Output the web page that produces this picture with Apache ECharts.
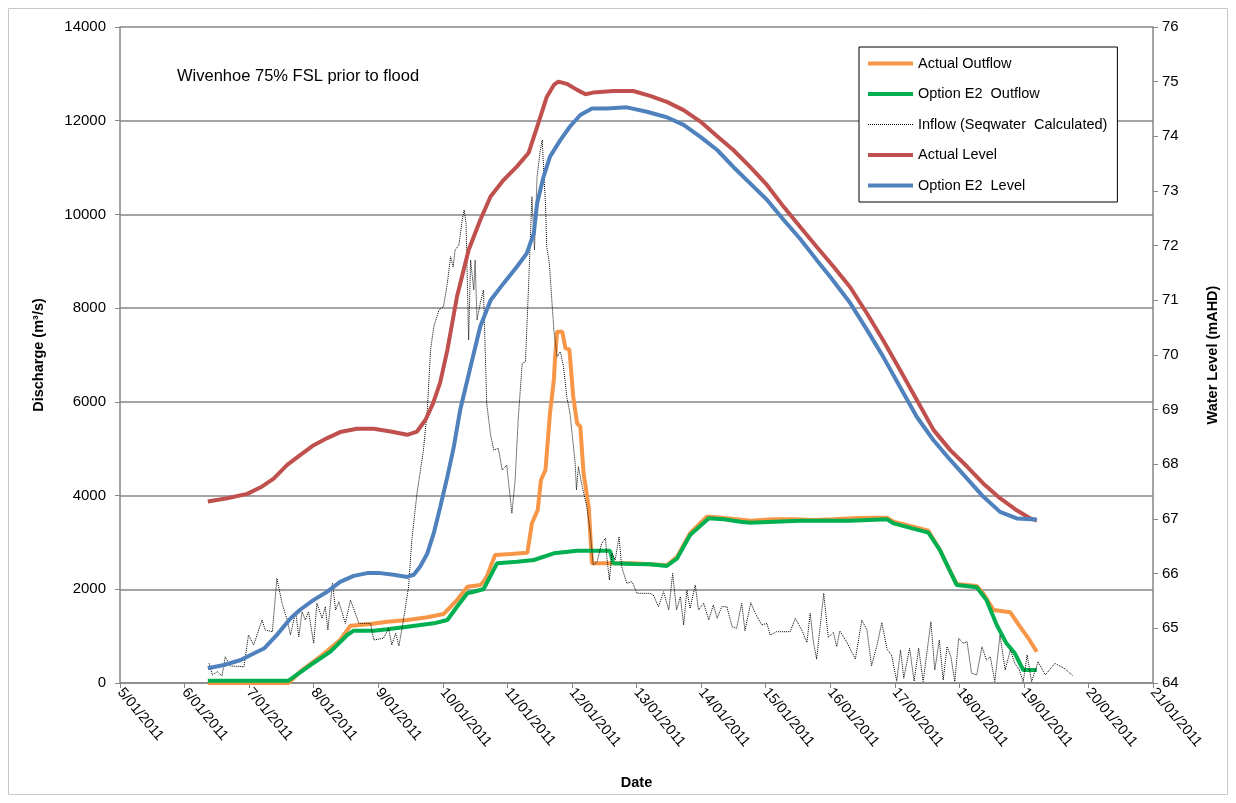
<!DOCTYPE html>
<html>
<head>
<meta charset="utf-8">
<script src="https://cdn.jsdelivr.net/npm/echarts@6/dist/echarts.min.js"></script>
<style>
  html, body { margin: 0; padding: 0; background: #fff; }
  #chart { width: 1236px; height: 803px; }
</style>
</head>
<body>
<div id="chart"></div>
<script>
// x values are the day of January 2011 (decimal), e.g. 6.5 = 6/01/2011 12:00
const dayTicks = [5, 6, 7, 8, 9, 10, 11, 12, 13, 14, 15, 16, 17, 18, 19, 20, 21]
const dischargeTicks = [0, 2000, 4000, 6000, 8000, 10000, 12000, 14000]
const levelTicks = [64, 65, 66, 67, 68, 69, 70, 71, 72, 73, 74, 75, 76]

// discharge, m3/s
const actualOutflow = [
  [6.36, 0], [7.61, 0], [7.79, 241], [8.10, 561], [8.41, 918], [8.57, 1223], [8.88, 1259],
  [9.14, 1308], [9.45, 1344], [9.76, 1402], [10.01, 1472], [10.22, 1771], [10.38, 2055],
  [10.58, 2091], [10.63, 2162], [10.68, 2268], [10.81, 2731], [11.05, 2753], [11.31, 2781],
  [11.38, 3408], [11.47, 3692], [11.52, 4332], [11.59, 4545], [11.66, 5755], [11.72, 6466],
  [11.74, 6963], [11.77, 7497], [11.85, 7497], [11.90, 7142], [11.96, 7121], [12.02, 6110],
  [12.08, 5542], [12.13, 5469], [12.18, 4475], [12.26, 3762], [12.31, 2554], [12.64, 2554],
  [12.95, 2554], [13.21, 2533], [13.47, 2512], [13.63, 2695], [13.83, 3195], [14.09, 3549],
  [14.14, 3549], [14.40, 3515], [14.76, 3464], [15.12, 3493], [15.43, 3493], [15.74, 3478],
  [16.05, 3493], [16.36, 3515], [16.67, 3528], [16.88, 3528], [16.98, 3442], [17.24, 3350],
  [17.52, 3251], [17.70, 2838], [17.81, 2518], [17.96, 2113], [18.27, 2070], [18.37, 1914],
  [18.53, 1558], [18.79, 1508], [18.94, 1202], [19.07, 954], [19.20, 668]
]

const optionE2Outflow = [
  [6.36, 50], [7.61, 50], [7.64, 64], [7.95, 384], [8.26, 668], [8.52, 1024], [8.62, 1116],
  [8.93, 1116], [9.14, 1145], [9.45, 1202], [9.86, 1273], [10.07, 1344], [10.22, 1628],
  [10.38, 1914], [10.48, 1948], [10.58, 1984], [10.63, 2000], [10.84, 2554], [11.15, 2589],
  [11.41, 2625], [11.72, 2768], [12.08, 2823], [12.59, 2823], [12.64, 2554], [12.95, 2539],
  [13.21, 2533], [13.47, 2497], [13.63, 2661], [13.83, 3158], [14.12, 3515], [14.35, 3493],
  [14.61, 3442], [14.76, 3421], [15.53, 3464], [16.31, 3464], [16.88, 3493], [16.98, 3408],
  [17.52, 3208], [17.70, 2838], [17.96, 2091], [18.27, 2042], [18.42, 1771], [18.58, 1238],
  [18.73, 847], [18.86, 634], [18.99, 277], [19.20, 277]
]

const inflow = [
  [6.38, 420], [6.43, 171], [6.51, 241], [6.58, 149], [6.63, 561], [6.71, 363], [6.92, 348],
  [6.99, 1024], [7.07, 811], [7.20, 1344], [7.25, 1131], [7.36, 1095], [7.43, 2234],
  [7.51, 1701], [7.59, 1344], [7.64, 1024], [7.72, 1522], [7.77, 988], [7.82, 1522],
  [7.87, 1344], [7.92, 1522], [8.00, 847], [8.05, 1701], [8.13, 1381], [8.18, 1628],
  [8.22, 1131], [8.29, 2128], [8.34, 1558], [8.39, 1735], [8.49, 1274], [8.57, 1771],
  [8.70, 1274], [8.88, 1274], [8.93, 918], [9.08, 954], [9.16, 1167], [9.21, 811],
  [9.27, 1061], [9.32, 790], [9.39, 1344], [9.47, 2055], [9.52, 3052], [9.60, 4047],
  [9.70, 4972], [9.76, 5826], [9.81, 7106], [9.86, 7604], [9.94, 7960], [10.01, 8031],
  [10.07, 8530], [10.12, 9097], [10.16, 8884], [10.19, 9240], [10.25, 9347], [10.30, 9880],
  [10.33, 10094], [10.36, 9810], [10.40, 7320], [10.43, 9027], [10.48, 8387], [10.50, 9027],
  [10.53, 7746], [10.58, 8103], [10.63, 8387], [10.68, 5969], [10.74, 5292], [10.79, 4972],
  [10.86, 5008], [10.92, 4545], [10.99, 4652], [11.07, 3621], [11.12, 4332], [11.17, 5683],
  [11.23, 6822], [11.28, 6857], [11.33, 8530], [11.38, 10378], [11.42, 9240], [11.46, 10805],
  [11.51, 11374], [11.54, 11588], [11.56, 11018], [11.59, 10237], [11.61, 9311], [11.65, 8956],
  [11.72, 7533], [11.77, 6963], [11.82, 7070], [11.87, 6750], [11.92, 6110], [11.97, 5755],
  [12.05, 4688], [12.07, 4119], [12.10, 4616], [12.16, 4189], [12.23, 3762], [12.28, 3265],
  [12.33, 2518], [12.39, 2589], [12.46, 2981], [12.52, 3088], [12.54, 2695], [12.58, 2198],
  [12.62, 2768], [12.67, 2625], [12.73, 3122], [12.77, 2482], [12.85, 2127], [12.93, 2162],
  [13.01, 1914], [13.21, 1914], [13.26, 1878], [13.34, 1628], [13.42, 1948], [13.50, 1558],
  [13.56, 2341], [13.62, 1558], [13.68, 1842], [13.73, 1238], [13.78, 1984], [13.83, 1594],
  [13.91, 2091], [13.96, 1558], [14.04, 1701], [14.12, 1344], [14.19, 1665], [14.25, 1381],
  [14.32, 1628], [14.40, 1628], [14.48, 1202], [14.55, 1167], [14.63, 1701], [14.68, 1116],
  [14.77, 1714], [14.84, 1487], [14.94, 1238], [15.02, 1274], [15.07, 1024], [15.17, 1095],
  [15.38, 1095], [15.46, 1381], [15.56, 1131], [15.64, 864], [15.69, 1487], [15.74, 880],
  [15.79, 510], [15.90, 1914], [15.97, 970], [16.05, 1080], [16.10, 775], [16.15, 1110],
  [16.26, 864], [16.39, 510], [16.49, 1344], [16.57, 1131], [16.64, 366], [16.72, 775],
  [16.80, 1290], [16.88, 720], [16.95, 598], [17.03, 40], [17.09, 704], [17.14, 100],
  [17.23, 740], [17.30, 40], [17.37, 740], [17.44, 30], [17.56, 1308], [17.62, 277],
  [17.69, 918], [17.75, 64], [17.81, 775], [17.87, 561], [17.93, 28], [17.99, 954],
  [18.06, 847], [18.12, 881], [18.19, 207], [18.27, 171], [18.35, 775], [18.42, 491],
  [18.48, 561], [18.55, 28], [18.63, 1024], [18.71, 277], [18.79, 704], [18.86, 420],
  [18.93, 277], [18.99, 28], [19.05, 598], [19.12, 28], [19.22, 455], [19.33, 171],
  [19.48, 420], [19.64, 300], [19.76, 150]
]

// water level, mAHD
const actualLevel = [
  [6.36, 67.32], [6.66, 67.38], [6.97, 67.46], [7.18, 67.58], [7.38, 67.74], [7.59, 67.99],
  [7.79, 68.17], [8.00, 68.35], [8.21, 68.48], [8.41, 68.59], [8.67, 68.65], [8.93, 68.65],
  [9.19, 68.60], [9.45, 68.54], [9.60, 68.60], [9.73, 68.81], [9.85, 69.12], [9.96, 69.50],
  [10.07, 70.09], [10.22, 71.07], [10.40, 71.92], [10.58, 72.47], [10.74, 72.90],
  [10.94, 73.20], [11.15, 73.45], [11.33, 73.70], [11.48, 74.24], [11.61, 74.72],
  [11.72, 74.94], [11.79, 75.00], [11.92, 74.96], [12.08, 74.85], [12.21, 74.77],
  [12.33, 74.80], [12.64, 74.83], [12.95, 74.83], [13.21, 74.74], [13.47, 74.63],
  [13.73, 74.48], [13.99, 74.27], [14.25, 74.00], [14.50, 73.75], [14.76, 73.44],
  [15.02, 73.11], [15.28, 72.71], [15.53, 72.35], [15.79, 71.98], [16.05, 71.62],
  [16.31, 71.24], [16.57, 70.76], [16.82, 70.27], [17.08, 69.73], [17.34, 69.18],
  [17.60, 68.63], [17.86, 68.26], [18.12, 67.96], [18.37, 67.65], [18.63, 67.38],
  [18.89, 67.16], [19.10, 67.01], [19.20, 66.97]
]

const optionE2Level = [
  [6.36, 64.27], [6.61, 64.33], [6.87, 64.42], [7.07, 64.54], [7.23, 64.63], [7.43, 64.88],
  [7.64, 65.18], [7.79, 65.34], [8.00, 65.52], [8.21, 65.67], [8.41, 65.85], [8.62, 65.96],
  [8.83, 66.01], [9.03, 66.01], [9.24, 65.98], [9.45, 65.94], [9.55, 65.98], [9.65, 66.13],
  [9.76, 66.37], [9.86, 66.74], [9.96, 67.22], [10.07, 67.77], [10.17, 68.32], [10.27, 69.00],
  [10.43, 69.79], [10.58, 70.52], [10.74, 71.00], [10.94, 71.31], [11.15, 71.62],
  [11.30, 71.86], [11.41, 72.23], [11.46, 72.77], [11.56, 73.26], [11.66, 73.63],
  [11.82, 73.93], [11.97, 74.18], [12.13, 74.39], [12.31, 74.51], [12.54, 74.51],
  [12.85, 74.53], [13.16, 74.45], [13.47, 74.35], [13.73, 74.21], [13.99, 73.99],
  [14.25, 73.75], [14.50, 73.44], [14.76, 73.14], [15.02, 72.84], [15.28, 72.47],
  [15.53, 72.13], [15.79, 71.74], [16.00, 71.43], [16.31, 70.95], [16.57, 70.46],
  [16.82, 69.97], [17.08, 69.42], [17.34, 68.87], [17.60, 68.44], [17.86, 68.08],
  [18.12, 67.74], [18.37, 67.41], [18.63, 67.13], [18.89, 67.01], [19.20, 66.99]
]

const font = 'Liberation Sans, Arial, sans-serif'
const axisGray = '#868686'
const nameStyle = { fontFamily: font, fontSize: 14.5, fontWeight: 'bold', color: '#000' }

const myChart = echarts.init(document.getElementById('chart'))
myChart.setOption({
  animation: false,
  backgroundColor: '#fff',
  textStyle: { fontFamily: font, color: '#000' },
  title: {
    text: 'Wivenhoe 75% FSL prior to flood',
    left: 172,
    top: 63,
    textStyle: { fontFamily: font, fontSize: 16.5, fontWeight: 'normal', color: '#000' }
  },
  graphic: [
    {
      type: 'rect',
      shape: { x: 8.5, y: 8.5, width: 1219, height: 786 },
      style: { fill: 'none', stroke: '#c8c8c8', lineWidth: 1 },
      silent: true
    }
  ],
  legend: {
    orient: 'vertical',
    left: 859,
    top: 47,
    padding: [9, 10, 9, 7],
    itemWidth: 45,
    itemHeight: 14,
    itemGap: 15.5,
    backgroundColor: '#fff',
    borderColor: '#000',
    borderWidth: 1,
    itemStyle: { opacity: 0 },
    textStyle: { fontFamily: font, fontSize: 14.5, color: '#000' },
    data: [
      { name: 'Actual Outflow', lineStyle: { width: 4 } },
      { name: 'Option E2  Outflow', lineStyle: { width: 4 } },
      { name: 'Inflow (Seqwater  Calculated)', lineStyle: { width: 1 } },
      { name: 'Actual Level', lineStyle: { width: 4 } },
      { name: 'Option E2  Level', lineStyle: { width: 4 } }
    ]
  },
  grid: { left: 120, right: 83, top: 27, bottom: 120 },
  xAxis: {
    type: 'value',
    min: dayTicks[0],
    max: dayTicks[dayTicks.length - 1],
    interval: 1,
    name: 'Date',
    nameLocation: 'middle',
    nameGap: 92,
    nameTextStyle: nameStyle,
    axisLine: { lineStyle: { color: axisGray, width: 1.5 } },
    axisTick: { show: true, length: 5, lineStyle: { color: axisGray } },
    splitLine: { show: false },
    axisLabel: {
      rotate: -50,
      fontSize: 14.5,
      color: '#000',
      margin: 7,
      formatter: v => v + '/01/2011'
    }
  },
  yAxis: [
    {
      type: 'value',
      min: dischargeTicks[0],
      max: dischargeTicks[dischargeTicks.length - 1],
      interval: 2000,
      name: 'Discharge (m³/s)',
      nameLocation: 'middle',
      nameRotate: 90,
      nameGap: 74,
      nameTextStyle: nameStyle,
      axisLine: { show: true, lineStyle: { color: axisGray, width: 1.5 } },
      axisTick: { show: true, length: 5, lineStyle: { color: axisGray } },
      splitLine: { show: true, lineStyle: { color: axisGray, width: 1.5 } },
      axisLabel: { fontSize: 15, color: '#000', margin: 14, formatter: v => String(v) }
    },
    {
      type: 'value',
      min: levelTicks[0],
      max: levelTicks[levelTicks.length - 1],
      interval: 1,
      name: 'Water Level (mAHD)',
      nameLocation: 'middle',
      nameRotate: 90,
      nameGap: 52,
      nameTextStyle: nameStyle,
      axisLine: { show: true, lineStyle: { color: axisGray, width: 1.5 } },
      axisTick: { show: true, length: 5, lineStyle: { color: axisGray } },
      splitLine: { show: false },
      axisLabel: { fontSize: 15, color: '#000', margin: 9, formatter: v => String(v) }
    }
  ],
  series: [
    {
      name: 'Actual Outflow',
      type: 'line',
      yAxisIndex: 0,
      data: actualOutflow,
      symbol: 'none',
      color: '#F79646',
      lineStyle: { color: '#F79646', width: 4 }
    },
    {
      name: 'Option E2  Outflow',
      type: 'line',
      yAxisIndex: 0,
      data: optionE2Outflow,
      symbol: 'none',
      color: '#00B050',
      lineStyle: { color: '#00B050', width: 4 }
    },
    {
      name: 'Inflow (Seqwater  Calculated)',
      type: 'line',
      yAxisIndex: 0,
      data: inflow,
      symbol: 'none',
      color: '#000',
      lineStyle: { color: '#000', width: 1, type: 'dotted' }
    },
    {
      name: 'Actual Level',
      type: 'line',
      yAxisIndex: 1,
      data: actualLevel,
      symbol: 'none',
      color: '#C0504D',
      lineStyle: { color: '#C0504D', width: 4 }
    },
    {
      name: 'Option E2  Level',
      type: 'line',
      yAxisIndex: 1,
      data: optionE2Level,
      symbol: 'none',
      color: '#4F81BD',
      lineStyle: { color: '#4F81BD', width: 4 }
    }
  ]
})
</script>
</body>
</html>
